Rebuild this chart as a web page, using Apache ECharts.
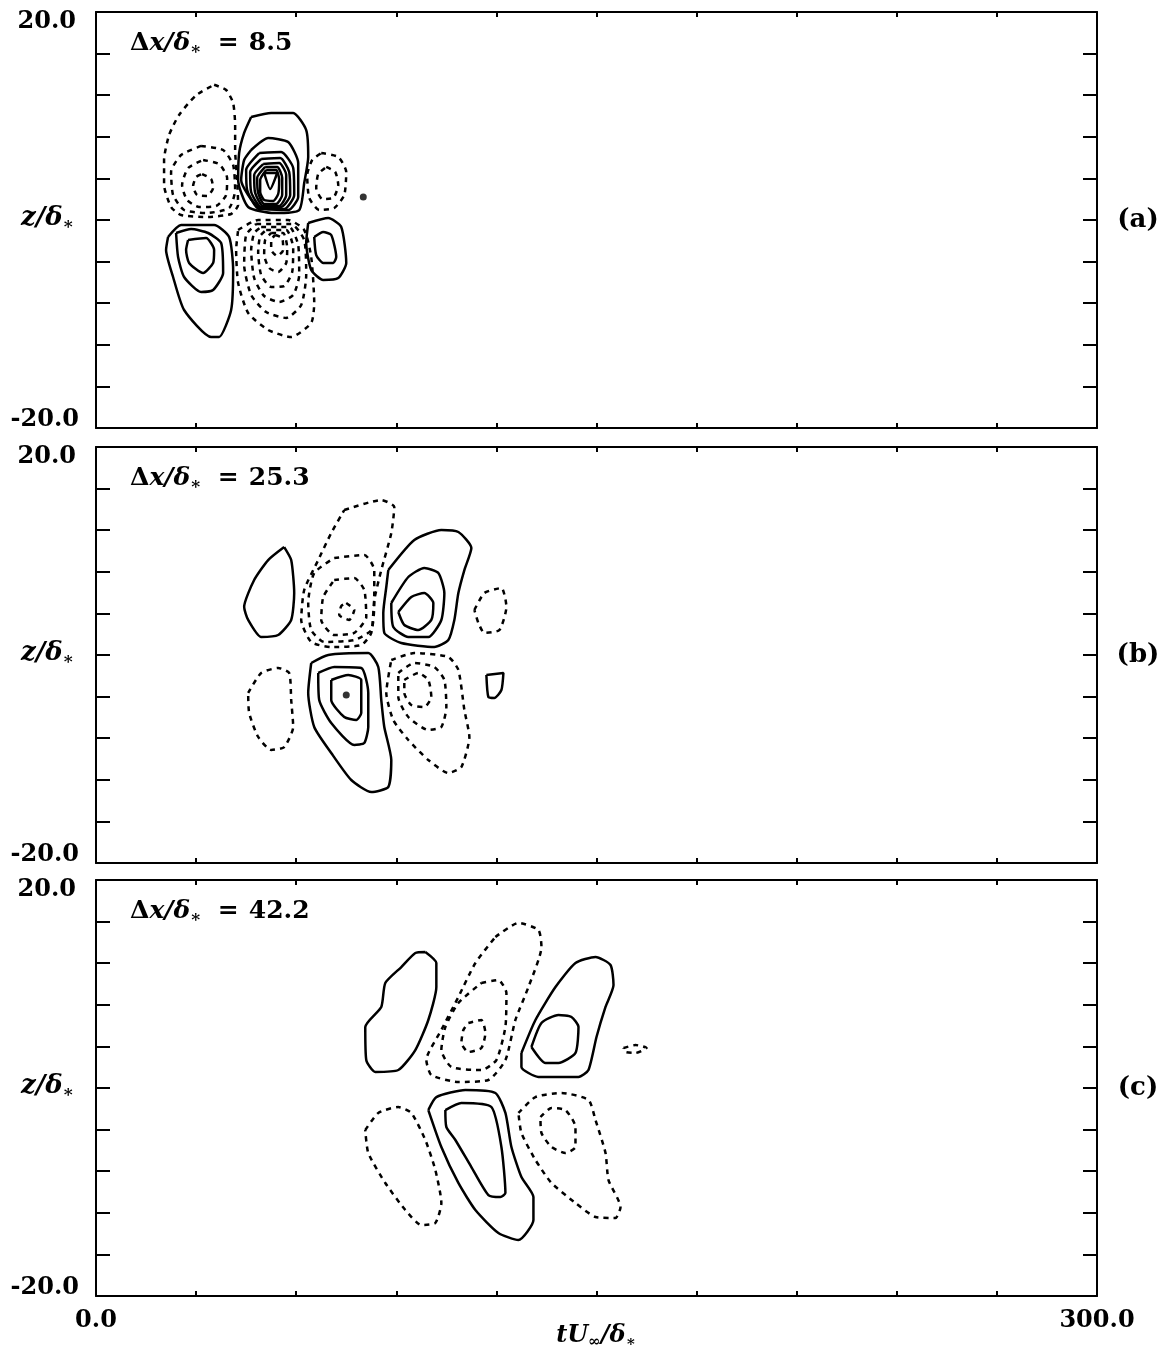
<!DOCTYPE html>
<html><head><meta charset="utf-8">
<script src="https://cdn.jsdelivr.net/npm/echarts@6/dist/echarts.min.js"></script>
<style>html,body{margin:0;padding:0;background:#fff}#c{width:1174px;height:1353px}</style>
</head><body><div id="c"></div>
<script>
// ---- axes / labels ----
const xRange = [0, 300];
const zRange = [-20, 20];
const xTickLabels = ['0.0', '300.0'];
const zTickLabels = ['-20.0', '20.0'];
const panelTags = ['(a)', '(b)', '(c)'];
const panelDx = ['8.5', '25.3', '42.2'];

// ---- panel (a) contours [tU/δ*, z/δ*] ----
const a_ul1 = [[35.4,13.0],[39.0,12.5],[41.1,11.25],[41.7,9.13],[41.7,6.73],[42.3,3.85],[42.6,1.44],[40.5,0.58],[33.0,0.29],[25.5,0.48],[22.5,1.25],[20.4,3.37],[20.4,5.77],[21.9,8.17],[24.9,10.1],[30.0,12.0]];
const a_ul2 = [[31.5,7.12],[38.1,6.73],[41.1,5.29],[41.7,2.88],[39.9,1.15],[33.0,0.67],[26.4,0.96],[23.1,2.40],[22.5,4.62],[25.5,6.25]];
const a_ul3 = [[32.1,5.77],[36.9,5.38],[39.3,4.04],[39.0,2.40],[36.0,1.35],[30.9,1.25],[27.3,1.92],[25.8,3.37],[27.6,5.0]];
const a_ul4 = [[31.8,4.42],[34.5,3.94],[35.1,3.08],[33.3,2.31],[30.3,2.40],[29.1,3.27],[30.0,4.13]];
const a_uc1 = [[46.5,9.90],[52.5,10.29],[59.1,10.29],[63.0,8.65],[63.6,6.06],[62.4,3.56],[60.9,0.96],[53.4,0.67],[45.6,1.25],[42.6,3.85],[42.9,6.44],[44.4,8.37]];
const a_uc2 = [[46.5,6.73],[51.6,7.88],[57.6,7.5],[60.6,5.48],[60.6,2.21],[57.6,0.96],[48.6,1.25],[43.5,3.85],[44.4,5.77]];
const a_uc3 = [[48.9,6.44],[55.5,6.54],[59.1,5.0],[59.4,2.40],[56.4,1.06],[48.9,1.06],[45.3,2.88],[45.0,4.81]];
const a_uc4 = [[49.5,5.87],[55.2,5.96],[57.9,4.62],[58.2,2.40],[55.5,1.25],[49.5,1.25],[46.5,2.69],[46.2,4.62]];
const a_uc5 = [[50.1,5.38],[54.9,5.48],[57.0,4.33],[57.0,2.40],[54.9,1.35],[50.1,1.35],[47.7,2.60],[47.4,4.33]];
const a_uc6 = [[50.7,5.10],[54.3,5.10],[55.8,4.04],[55.8,2.40],[54.0,1.54],[50.4,1.54],[48.6,2.60],[48.3,4.04]];
const a_uc7 = [[51.0,4.81],[54.0,4.81],[54.9,3.85],[54.6,2.50],[53.1,1.83],[50.4,1.92],[49.2,2.69],[49.2,3.85]];
const a_uc8 = [[50.4,4.52],[54.3,4.52],[52.2,2.98]];
const a_ur1 = [[67.5,6.44],[72.6,6.06],[75.0,4.62],[74.4,2.40],[71.4,1.15],[66.9,0.96],[63.9,2.12],[63.3,4.33],[64.8,5.77]];
const a_ur2 = [[69.0,5.10],[71.7,4.62],[72.6,3.37],[71.1,2.12],[67.8,2.02],[66.0,3.08],[66.6,4.42]];
const a_ll1 = [[21.6,-1.63],[25.5,-0.48],[35.4,-0.48],[39.9,-1.63],[41.1,-4.81],[40.5,-8.65],[36.9,-11.25],[34.5,-11.25],[26.4,-8.65],[23.1,-5.48],[21.0,-2.88]];
const a_ll2 = [[24.0,-1.25],[28.5,-0.87],[33.6,-1.25],[37.5,-2.21],[38.1,-5.10],[35.1,-6.73],[31.5,-6.92],[26.4,-5.48],[24.6,-3.56]];
const a_ll3 = [[27.6,-1.92],[33.0,-1.73],[35.4,-2.88],[35.1,-4.13],[32.1,-5.10],[27.9,-4.13],[27.0,-2.88]];
const a_lc1 = [[42.6,-0.96],[48.6,0.0],[57.6,0.0],[62.4,-0.96],[64.5,-3.56],[65.4,-7.98],[64.5,-9.90],[58.5,-11.25],[51.6,-10.58],[45.6,-8.94],[42.6,-6.06],[42.0,-2.88]];
const a_lc2 = [[48.0,-0.38],[58.5,-0.38],[62.4,-1.92],[63.0,-5.29],[61.5,-8.17],[57.0,-9.42],[51.0,-8.85],[46.5,-7.21],[44.4,-4.33],[45.0,-1.44]];
const a_lc3 = [[49.5,-0.67],[57.9,-0.67],[60.6,-2.40],[60.9,-5.29],[59.1,-7.21],[54.9,-7.88],[50.4,-7.31],[47.4,-5.58],[46.5,-2.88],[47.4,-1.25]];
const a_lc4 = [[51.0,-0.96],[57.0,-0.96],[59.1,-2.69],[58.8,-5.0],[56.4,-6.35],[52.5,-6.44],[49.5,-5.29],[48.6,-3.08],[49.2,-1.54]];
const a_lc5 = [[52.5,-1.25],[56.1,-1.25],[57.3,-2.69],[57.0,-4.13],[54.6,-5.0],[51.9,-4.62],[50.4,-3.37],[50.7,-1.92]];
const a_lc6 = [[53.7,-1.44],[55.8,-1.73],[56.1,-2.88],[54.3,-3.46],[52.5,-2.88],[52.5,-1.92]];
const a_lr1 = [[63.6,-0.29],[69.6,0.19],[73.5,-0.67],[75.0,-4.13],[72.6,-5.58],[68.1,-5.77],[64.5,-4.81],[63.0,-2.21]];
const a_lr2 = [[65.4,-1.63],[68.1,-1.15],[70.5,-1.44],[72.0,-3.56],[71.1,-4.13],[68.1,-4.13],[66.0,-3.37]];
const a_dots = [[80.1,2.21]];

// ---- panel (b) ----
const b_ul1 = [[56.4,10.38],[58.5,9.13],[59.4,5.96],[58.5,3.37],[54.6,1.92],[49.5,1.73],[45.6,3.37],[44.4,4.62],[47.4,7.21],[51.6,9.13]];
const b_ud1 = [[74.4,13.94],[85.5,14.90],[89.4,14.23],[88.5,11.73],[85.5,8.17],[83.4,5.29],[82.5,2.12],[79.5,0.96],[70.5,0.77],[64.5,1.25],[61.5,3.37],[62.4,6.25],[66.6,9.13],[70.5,11.73]];
const b_ud2 = [[71.4,9.33],[80.4,9.62],[83.4,8.17],[83.4,5.0],[82.5,2.40],[77.4,1.44],[68.4,1.25],[64.5,2.40],[63.6,5.0],[65.4,7.88]];
const b_ud3 = [[71.4,7.21],[77.4,7.40],[80.4,6.25],[81.0,3.65],[77.4,2.12],[71.4,1.92],[67.5,3.37],[68.1,5.58]];
const b_ud4 = [[75.0,5.0],[77.4,4.33],[75.9,3.37],[72.9,3.85],[73.5,4.71]];
const b_us1 = [[87.6,8.17],[95.4,11.06],[103.5,12.02],[108.6,11.83],[112.5,10.29],[110.4,8.17],[108.6,5.96],[107.4,3.37],[105.6,1.44],[101.4,0.77],[91.5,1.15],[86.4,2.12],[86.1,4.04],[87.0,6.54]];
const b_us2 = [[88.5,5.0],[93.6,7.50],[98.4,8.37],[102.6,7.88],[104.4,5.96],[103.5,3.37],[99.6,1.73],[93.6,1.73],[89.1,2.69]];
const b_us3 = [[90.6,4.13],[94.5,5.58],[98.4,5.96],[101.1,5.0],[100.5,3.37],[96.6,2.40],[92.4,2.88]];
const b_ur1 = [[113.4,4.33],[116.4,5.96],[121.5,6.44],[123.0,4.62],[120.9,2.40],[116.4,2.12],[114.6,3.08]];
const b_ll1 = [[45.6,-3.65],[49.5,-1.73],[54.6,-1.25],[57.9,-1.73],[58.5,-4.33],[59.1,-6.92],[56.4,-8.85],[52.5,-9.13],[48.6,-7.88],[45.9,-5.58]];
const b_ls1 = [[64.5,-0.77],[69.6,0.0],[81.6,0.19],[84.6,-1.15],[85.5,-4.33],[86.4,-6.92],[88.5,-10.10],[87.6,-12.69],[82.5,-13.17],[76.5,-12.02],[70.5,-9.42],[65.4,-6.92],[63.6,-3.65]];
const b_ls2 = [[66.6,-1.73],[71.4,-1.15],[79.5,-1.25],[81.6,-3.65],[81.6,-6.92],[80.4,-8.46],[77.4,-8.65],[70.5,-6.54],[66.9,-4.33]];
const b_ls3 = [[70.5,-2.40],[75.6,-1.92],[79.5,-2.40],[79.5,-5.58],[78.0,-6.25],[74.4,-5.96],[70.5,-4.33]];
const b_lr1 = [[88.5,-0.48],[95.4,0.19],[105.6,-0.19],[108.6,-1.44],[110.4,-5.29],[111.9,-7.88],[109.5,-10.77],[105.6,-11.35],[99.6,-10.10],[93.6,-8.17],[89.1,-6.25],[87.0,-3.65]];
const b_lr2 = [[90.6,-1.73],[95.4,-0.77],[101.4,-1.15],[104.4,-2.40],[105.0,-5.0],[103.5,-6.92],[99.6,-7.21],[93.6,-5.96],[90.6,-4.04]];
const b_lr3 = [[92.4,-2.40],[96.6,-1.73],[99.6,-2.40],[100.5,-4.04],[98.4,-5.0],[94.5,-4.81],[92.4,-3.65]];
const b_rs1 = [[117.0,-1.92],[122.1,-1.73],[121.5,-3.37],[119.4,-4.13],[117.6,-4.04]];
const b_dots = [[75.0,-3.85]];

// ---- panel (c) ----
const c_ul1 = [[98.7,13.08],[102.0,12.02],[102.0,9.71],[99.6,6.54],[95.7,3.65],[90.6,1.73],[83.7,1.54],[81.0,2.69],[80.7,5.87],[85.5,7.79],[86.7,10.10],[91.5,11.63],[95.7,12.98]];
const c_ud1 = [[119.7,14.52],[126.6,15.87],[132.6,15.19],[133.5,13.56],[129.6,9.71],[125.7,6.54],[122.7,2.69],[117.6,0.77],[108.6,0.58],[100.5,1.25],[99.0,2.69],[103.5,5.58],[108.6,8.75],[113.7,12.02]];
const c_ud2 = [[115.5,10.10],[120.6,10.38],[123.0,9.13],[122.7,5.87],[120.0,2.69],[115.5,1.73],[106.5,2.02],[103.5,3.65],[104.7,5.87],[108.6,8.17]];
const c_ud3 = [[111.6,6.25],[115.5,6.54],[116.7,5.29],[115.5,3.85],[111.6,3.46],[109.5,4.33],[110.1,5.58]];
const c_us1 = [[127.5,3.37],[131.7,6.54],[137.7,9.71],[143.7,12.02],[149.7,12.60],[154.2,11.83],[155.1,9.90],[152.7,7.79],[150.0,4.90],[147.6,1.73],[144.6,1.06],[132.6,1.06],[127.5,2.02]];
const c_us2 = [[130.5,3.94],[133.5,6.25],[138.6,7.02],[142.5,6.83],[144.6,5.87],[143.7,3.37],[138.6,2.40],[134.7,2.40]];
const c_ur1 = [[158.1,3.85],[161.7,4.13],[165.0,3.85],[161.7,3.37],[158.7,3.46]];
const c_ll1 = [[80.7,-4.04],[84.6,-2.40],[90.6,-1.83],[94.5,-2.40],[98.7,-5.0],[101.7,-7.88],[103.5,-11.06],[101.7,-12.98],[97.5,-13.17],[92.7,-11.73],[86.7,-9.13],[81.6,-6.25]];
const c_ls1 = [[99.6,-2.12],[102.0,-0.87],[110.7,-0.19],[119.7,-0.48],[122.7,-2.40],[124.5,-5.67],[127.5,-8.56],[131.1,-10.48],[131.1,-12.69],[126.6,-14.62],[120.6,-13.94],[113.7,-11.73],[108.6,-9.13],[103.5,-5.67]];
const c_ls2 = [[104.7,-2.12],[109.5,-1.44],[118.5,-1.83],[121.5,-5.67],[122.7,-10.10],[121.2,-10.48],[117.6,-10.29],[112.5,-7.60],[107.7,-5.0],[105.0,-3.75]];
const c_lr1 = [[126.6,-2.40],[131.7,-0.87],[139.5,-0.48],[147.6,-1.15],[149.7,-3.08],[152.7,-6.25],[153.6,-8.85],[157.2,-11.44],[155.7,-12.50],[149.7,-12.40],[143.7,-11.06],[136.5,-9.13],[131.7,-6.92],[127.5,-4.33]];
const c_lr2 = [[133.2,-2.79],[136.5,-1.92],[140.7,-2.12],[143.7,-3.75],[143.7,-5.67],[140.7,-6.25],[136.5,-5.67],[133.5,-4.33]];

// contour table: panel, dashed (negative level), points
const contours = [
  [0,1,a_ul1],[0,1,a_ul2],[0,1,a_ul3],[0,1,a_ul4],
  [0,0,a_uc1],[0,0,a_uc2],[0,0,a_uc3],[0,0,a_uc4],[0,0,a_uc5],[0,0,a_uc6],[0,0,a_uc7],[0,0,a_uc8],
  [0,1,a_ur1],[0,1,a_ur2],
  [0,0,a_ll1],[0,0,a_ll2],[0,0,a_ll3],
  [0,1,a_lc1],[0,1,a_lc2],[0,1,a_lc3],[0,1,a_lc4],[0,1,a_lc5],[0,1,a_lc6],
  [0,0,a_lr1],[0,0,a_lr2],
  [1,0,b_ul1],[1,1,b_ud1],[1,1,b_ud2],[1,1,b_ud3],[1,1,b_ud4],
  [1,0,b_us1],[1,0,b_us2],[1,0,b_us3],[1,1,b_ur1],
  [1,1,b_ll1],[1,0,b_ls1],[1,0,b_ls2],[1,0,b_ls3],
  [1,1,b_lr1],[1,1,b_lr2],[1,1,b_lr3],[1,0,b_rs1],
  [2,0,c_ul1],[2,1,c_ud1],[2,1,c_ud2],[2,1,c_ud3],[2,0,c_us1],[2,0,c_us2],[2,1,c_ur1],
  [2,1,c_ll1],[2,0,c_ls1],[2,0,c_ls2],[2,1,c_lr1],[2,1,c_lr2]
];
const dots = [[0,a_dots],[1,b_dots]];

// ---- layout ----
const FONT = '"DejaVu Serif", "Liberation Serif", serif';
const panelTop = [12, 447, 880];
const panelH = 416;
const gLeft = 96, gRight = 77;

const grids = [], xAxes = [], yAxes = [], series = [], graphics = [];
panelTop.forEach((top, g) => {
  grids.push({left: gLeft, right: gRight, top: top, height: panelH});
  const isLast = g === panelTop.length - 1;
  const xBase = {type: 'value', min: xRange[0], max: xRange[1], interval: 30, gridIndex: g,
    axisLine: {show: true, onZero: false, lineStyle: {color: '#000', width: 2}},
    axisTick: {show: true, inside: true, length: 5, lineStyle: {color: '#000', width: 2}},
    splitLine: {show: false}};
  xAxes.push(Object.assign({}, xBase, {position: 'bottom',
    axisLabel: {show: isLast, margin: 13, fontFamily: FONT, fontWeight: 'bold', fontSize: 24, color: '#000',
      formatter: v => v === xRange[0] ? xTickLabels[0] : (v === xRange[1] ? xTickLabels[1] : '')}}));
  xAxes.push(Object.assign({}, xBase, {position: 'top', axisLabel: {show: false}}));
  const yBase = {type: 'value', min: zRange[0], max: zRange[1], interval: 4, gridIndex: g,
    axisLine: {show: true, onZero: false, lineStyle: {color: '#000', width: 2}},
    axisTick: {show: true, inside: true, length: 14, lineStyle: {color: '#000', width: 2}},
    axisLabel: {show: false}, splitLine: {show: false}};
  yAxes.push(Object.assign({}, yBase, {position: 'left'}));
  yAxes.push(Object.assign({}, yBase, {position: 'right'}));

  // z tick labels (top / bottom of each panel)
  graphics.push({type: 'text', style: {text: zTickLabels[1], x: 76, y: top + 10, align: 'right', verticalAlign: 'middle',
    font: 'bold 24px ' + FONT, fill: '#000'}});
  graphics.push({type: 'text', style: {text: zTickLabels[0], x: 79, y: top + panelH - 8, align: 'right', verticalAlign: 'middle',
    font: 'bold 24px ' + FONT, fill: '#000'}});
  // y-axis name
  graphics.push({type: 'text', style: {x: 21, y: top + panelH / 2 - 2, align: 'left', verticalAlign: 'middle',
    text: '{it|z/δ}{sub|∗}',
    rich: {it: {fontFamily: FONT, fontStyle: 'italic', fontWeight: 'bold', fontSize: 26, lineHeight: 30, verticalAlign: 'middle'},
           sub: {fontFamily: FONT, fontStyle: 'normal', fontWeight: 'bold', fontSize: 17, lineHeight: 13, verticalAlign: 'bottom'}}}});
  // panel tag
  graphics.push({type: 'text', style: {text: panelTags[g], x: 1138, y: top + panelH / 2, align: 'center', verticalAlign: 'middle',
    font: 'bold 26px ' + FONT, fill: '#000'}});
  // Δx annotation
  graphics.push({type: 'text', style: {x: 130, y: top + 31, align: 'left', verticalAlign: 'middle',
    text: '{rm|Δ}{it|x/δ}{sub|∗}{eq|=}{rm|' + panelDx[g] + '}',
    rich: {rm: {fontFamily: FONT, fontWeight: 'bold', fontSize: 25, lineHeight: 30, verticalAlign: 'middle'},
           eq: {fontFamily: FONT, fontWeight: 'bold', fontSize: 25, lineHeight: 30, verticalAlign: 'middle', padding: [0, 10, 0, 16]},
           it: {fontFamily: FONT, fontStyle: 'italic', fontWeight: 'bold', fontSize: 25, lineHeight: 30, verticalAlign: 'middle'},
           sub: {fontFamily: FONT, fontWeight: 'bold', fontSize: 17, lineHeight: 13, verticalAlign: 'bottom'}}}});
});
// x-axis name
graphics.push({type: 'text', style: {x: 596, y: 1336, align: 'center', verticalAlign: 'middle',
  text: '{it|tU}{sub|∞}{it|/δ}{sub|∗}',
  rich: {it: {fontFamily: FONT, fontStyle: 'italic', fontWeight: 'bold', fontSize: 24, lineHeight: 28, verticalAlign: 'middle'},
         sub: {fontFamily: FONT, fontWeight: 'bold', fontSize: 15, lineHeight: 12, verticalAlign: 'bottom'}}}});

contours.forEach(([g, dashed, pts]) => {
  series.push({type: 'line', xAxisIndex: 2 * g, yAxisIndex: 2 * g, data: pts.concat([pts[0]]),
    symbol: 'none', smooth: 0.2, silent: true, animation: false, clip: true,
    lineStyle: {color: '#000', width: 2.5, type: dashed ? [5, 5] : 'solid'}});
});
dots.forEach(([g, pts]) => {
  series.push({type: 'scatter', xAxisIndex: 2 * g, yAxisIndex: 2 * g, data: pts, symbolSize: 7,
    itemStyle: {color: '#000'}, silent: true, animation: false});
});

const chart = echarts.init(document.getElementById('c'), null, {renderer: 'canvas'});
chart.setOption({backgroundColor: '#fff', animation: false, grid: grids, xAxis: xAxes, yAxis: yAxes,
  series: series, graphic: graphics});
</script></body></html>
